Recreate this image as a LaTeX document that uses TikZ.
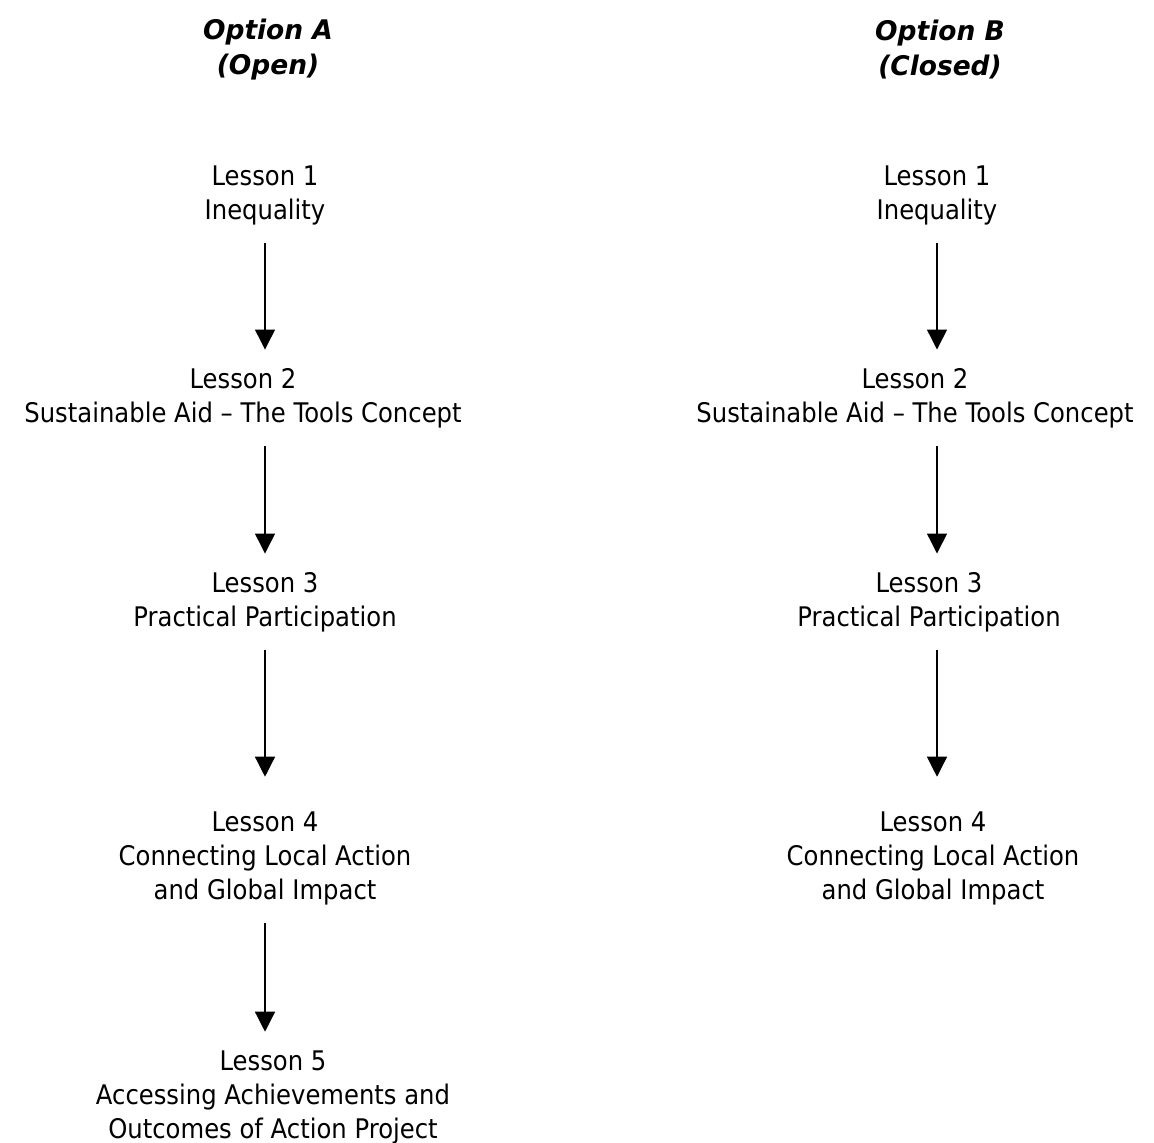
\documentclass[tikz,border=0pt]{standalone}
\usepackage{fontspec}
\setmainfont{DejaVu Sans}
\newfontfamily\lessonfont{DejaVu Sans}[FakeStretch=0.9]
\newfontfamily\optionfont{DejaVu Sans}[FakeStretch=0.98]
\usetikzlibrary{positioning,arrows.meta}

\begin{document}
\begin{tikzpicture}[
    > = {Triangle[width=10pt,length=10pt]},
    line width = 0.65pt,
    node distance = 102pt,
    option/.style={align=center, font=\optionfont\fontsize{13.5}{17.5}\selectfont\bfseries\itshape},
    lesson/.style={align=center, inner sep=9pt, font=\lessonfont\fontsize{13.5}{17}\selectfont}
]
    \useasboundingbox (0,0) rectangle (577pt,-571pt);

    \node[option] (optA) at (134pt,-25pt) {Option A\\(Open)};
    \node[option, right of=optA, node distance=336pt] (optB) {Option B\\(Closed)};

    % option A
    \node[lesson] (a1) at (132.5pt,-97.5pt) {Lesson 1\\Inequality};
    \node[lesson, below of=a1, node distance=101.5pt, xshift=-11pt] (a2) {Lesson 2\\Sustainable Aid – The Tools Concept};
    \node[lesson, below of=a1, node distance=203.5pt] (a3) {Lesson 3\\Practical Participation};
    \node[lesson, below of=a3, node distance=128pt] (a4) {Lesson 4\\Connecting Local Action\\and Global Impact};
    \node[lesson, below of=a4, node distance=119.5pt, xshift=4pt] (a5) {Lesson 5\\Accessing Achievements and\\Outcomes of Action Project};

    % option B
    \node[lesson, right of=a1, node distance=336pt] (b1) {Lesson 1\\Inequality};
    \node[lesson, below of=b1, node distance=101.5pt, xshift=-11pt] (b2) {Lesson 2\\Sustainable Aid – The Tools Concept};
    \node[lesson, below of=b1, node distance=203.5pt, xshift=-4pt] (b3) {Lesson 3\\Practical Participation};
    \node[lesson, below of=b3, node distance=128pt, xshift=2pt] (b4) {Lesson 4\\Connecting Local Action\\and Global Impact};

    \path[->]
        (a1) edge (a2.north -| a1)
        (a2.south -| a3) edge (a3)
        (a3) edge[shorten >=8pt] (a4)
        (a4) edge (a5.north -| a4)
        (b1) edge (b2.north -| b1)
        (b2.south -| b1) edge (b3.north -| b1)
        (b3.south -| b1) edge[shorten >=8pt] (b4.north -| b1);
\end{tikzpicture}
\end{document}
